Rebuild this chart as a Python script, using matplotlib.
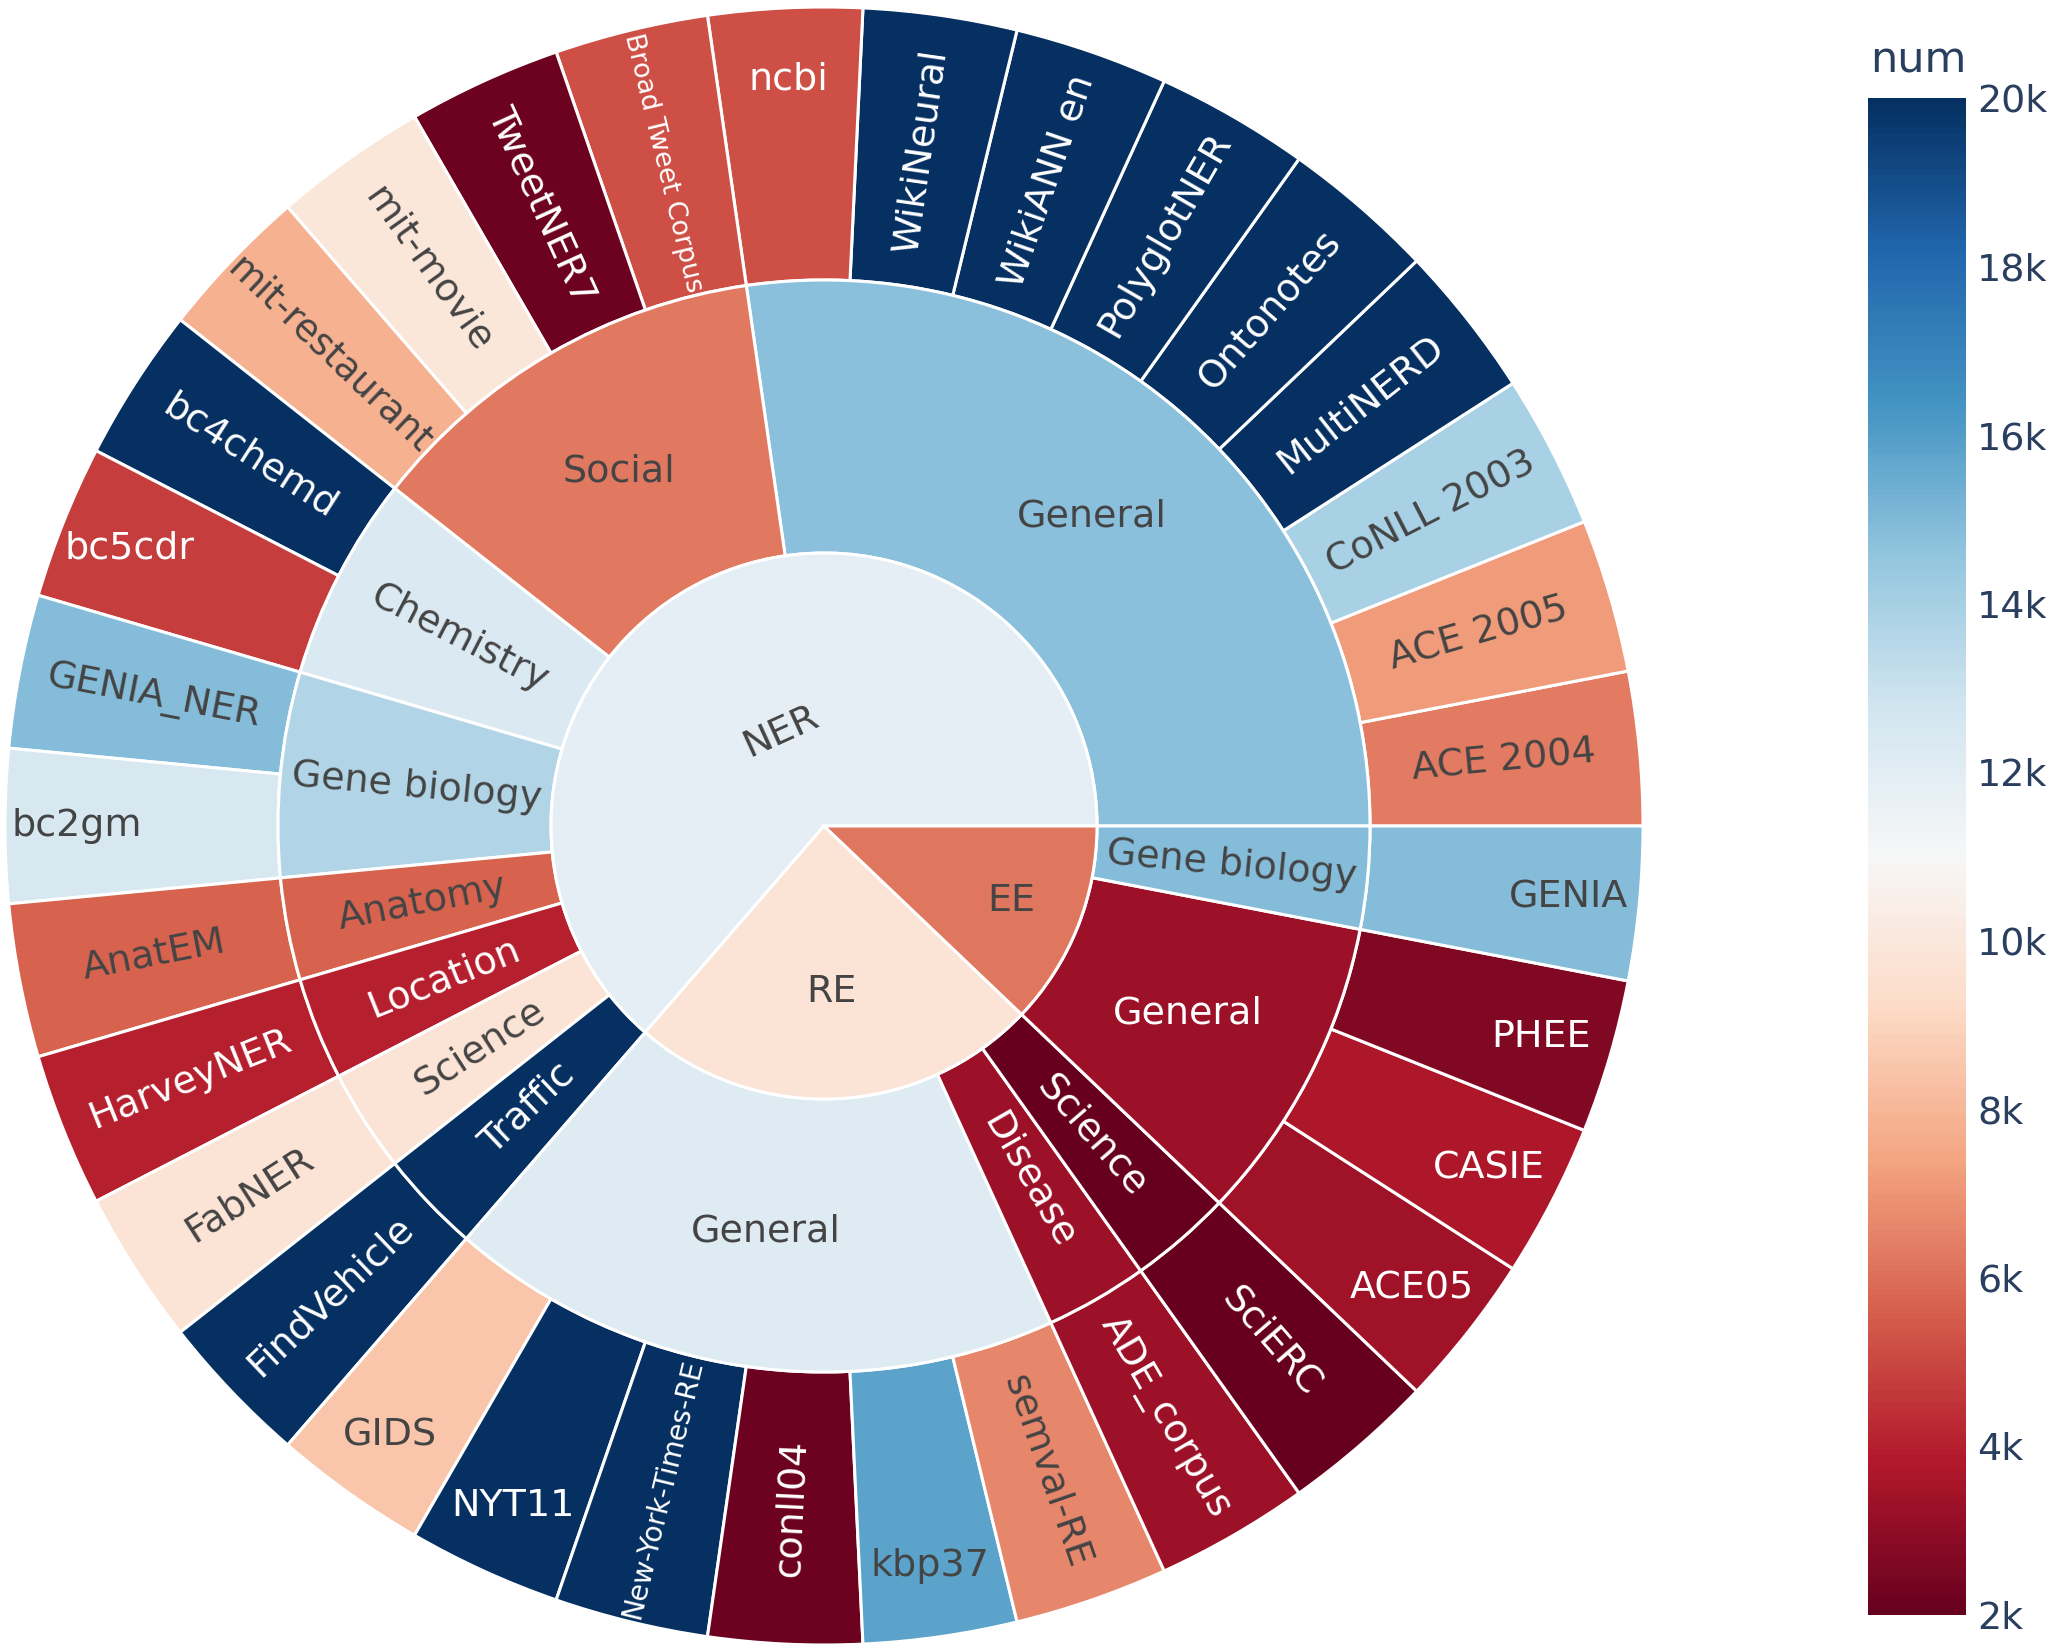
import numpy as np
import matplotlib
matplotlib.use('Agg')
import matplotlib.pyplot as plt
from matplotlib.patches import Wedge
from matplotlib.colors import Normalize
from matplotlib.cm import ScalarMappable
from matplotlib.textpath import TextPath
from matplotlib.font_manager import FontProperties

# hierarchy: task -> domain -> dataset (each dataset has the same share)
tasks = ['NER', 'RE', 'EE']
domains = ['General', 'Social', 'Chemistry', 'Gene biology', 'Anatomy',
           'Location', 'Science', 'Traffic',
           'General', 'Disease', 'Science',
           'General', 'Gene biology']
domain_task = [0] * 8 + [1] * 3 + [2] * 2
datasets = ['ACE 2004', 'ACE 2005', 'CoNLL 2003', 'MultiNERD', 'Ontonotes',
            'PolyglotNER', 'WikiANN en', 'WikiNeural', 'ncbi',
            'Broad Tweet Corpus', 'TweetNER7', 'mit-movie', 'mit-restaurant',
            'bc4chemd', 'bc5cdr', 'GENIA_NER', 'bc2gm', 'AnatEM', 'HarveyNER',
            'FabNER', 'FindVehicle',
            'GIDS', 'NYT11', 'New-York-Times-RE', 'conll04', 'kbp37',
            'semval-RE', 'ADE_corpus', 'SciERC',
            'ACE05', 'CASIE', 'PHEE', 'GENIA']
dataset_domain = ([0] * 9 + [1] * 4 + [2] * 2 + [3] * 2 + [4, 5, 6, 7]
                  + [8] * 6 + [9, 10] + [11] * 3 + [12])
dataset_num = [6300, 7200, 13900, 20000, 20000, 20000, 20000, 20000, 5200,
               5200, 2200, 9900, 7800, 20000, 4800, 14900, 12500, 5700, 4000,
               9800, 20000,
               8500, 20000, 20000, 2200, 15800, 6600, 3300, 2000,
               3400, 3700, 2700, 14900]

# label orientation: r = radial, h = horizontal, t = tangential
task_orient = ['t', 'h', 'h']
task_label_r = [0.38, 0.61, 0.74]
domain_orient = ['h', 'h', 'r', 'r', 'r', 'r', 'r', 'r', 'h', 'r', 'r', 'h', 'r']
dataset_orient = ['r'] * 8 + ['h'] + ['r'] * 5 + ['h', 'r', 'h'] + ['r'] * 4 \
    + ['h', 'h', 'r', 'r', 'h', 'r', 'r', 'r', 'h', 'h', 'h', 'h']

W, H = 2056, 1648
cx, cy, R = 824, H - 826, 819
FONT_PX = 38
DARK = '#444444'

nums = np.array(dataset_num, dtype=float)
dom_idx = np.array(dataset_domain)
domain_num = [nums[dom_idx == d].mean() for d in range(len(domains))]
task_of_leaf = np.array([domain_task[d] for d in dataset_domain])
task_num = [nums[task_of_leaf == t].mean() for t in range(len(tasks))]

cmap = plt.get_cmap('RdBu')
norm = Normalize(vmin=nums.min(), vmax=nums.max())
prop = FontProperties(family='DejaVu Sans')

fig = plt.figure(figsize=(W / 100, H / 100), dpi=100)
ax = fig.add_axes([0, 0, 1, 1])
ax.set_xlim(0, W)
ax.set_ylim(0, H)
ax.axis('off')


def text_color(val):
    r, g, b, _ = cmap(norm(val))
    bright = (r * 299 + g * 587 + b * 114) / 1000 * 255
    return DARK if bright >= 128 else 'white'


def upright(a):
    a = (a + 180) % 360 - 180
    if a > 90:
        a -= 180
    elif a < -90:
        a += 180
    return a


def label(s, ang, rad, orient, val):
    size = FONT_PX
    width = TextPath((0, 0), s, size=size, prop=prop).get_extents().width
    # shrink radial labels that would not fit in the ring
    if orient == 'r' and width > 262:
        size = size * 262 / width
    if orient == 'r':
        rot = upright(ang)
    elif orient == 't':
        rot = upright(ang - 90)
    else:
        rot = 0
    x = cx + rad * np.cos(np.radians(ang))
    y = cy + rad * np.sin(np.radians(ang))
    ax.text(x, y, s, rotation=rot, rotation_mode='anchor', ha='center',
            va='center', fontsize=size * 0.72, color=text_color(val),
            family='DejaVu Sans')


def sector(t1, t2, r_out, width, val):
    ax.add_patch(Wedge((cx, cy), r_out, t1, t2, width=width,
                       facecolor=cmap(norm(val)), edgecolor='white',
                       linewidth=2.2))


unit = 360 / len(datasets)

# outer ring: datasets
for i, name in enumerate(datasets):
    t1, t2 = i * unit, (i + 1) * unit
    sector(t1, t2, R, R / 3, dataset_num[i])
    rad = 0.913 * R if dataset_orient[i] == 'h' else 5 * R / 6
    label(name, (t1 + t2) / 2, rad, dataset_orient[i], dataset_num[i])

# middle ring: domains
start = 0
for d, name in enumerate(domains):
    n = int((dom_idx == d).sum())
    t1, t2 = start * unit, (start + n) * unit
    sector(t1, t2, 2 * R / 3, R / 3, domain_num[d])
    label(name, (t1 + t2) / 2, R / 2, domain_orient[d], domain_num[d])
    start += n

# inner disc: tasks
start = 0
for t, name in enumerate(tasks):
    n = int((task_of_leaf == t).sum())
    t1, t2 = start * unit, (start + n) * unit
    sector(t1, t2, R / 3, None, task_num[t])
    label(name, (t1 + t2) / 2, task_label_r[t] * R / 3, task_orient[t],
          task_num[t])
    start += n

# colorbar
cax = fig.add_axes([1868 / W, (H - 1615) / H, 98 / W, (1615 - 98) / H])
cb = fig.colorbar(ScalarMappable(norm=norm, cmap=cmap), cax=cax)
ticks = list(range(2000, 20001, 2000))
cb.set_ticks(ticks)
cb.set_ticklabels([f'{v // 1000}k' for v in ticks])
cb.outline.set_visible(False)
cax.tick_params(length=0, pad=8, labelsize=FONT_PX * 0.72,
                labelcolor='#2a3f5f')
fig.text(1870 / W, (H - 72) / H, 'num', fontsize=31, color='#2a3f5f',
         va='baseline', ha='left')

fig.savefig('out.png', dpi=100, facecolor='white')
